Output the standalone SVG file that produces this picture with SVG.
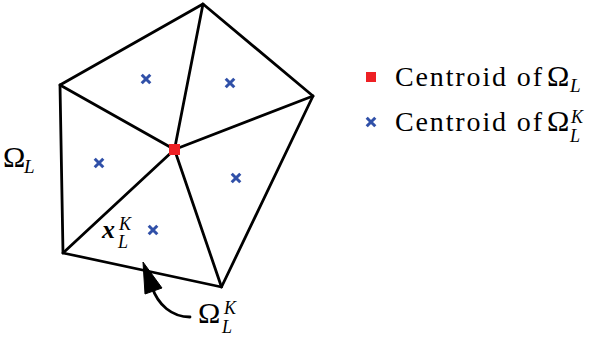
<svg xmlns="http://www.w3.org/2000/svg" width="595" height="343" viewBox="0 0 595 343">
<style>
.edge{stroke:#000;stroke-width:2.8;fill:none;stroke-linejoin:round;stroke-linecap:round}
.cross{stroke:#3050A8;stroke-width:3;stroke-linecap:butt}
.t{font-family:"Liberation Serif","DejaVu Serif",serif;fill:#000}
.i{font-style:italic}
</style>
<defs>
<path id="x" d="M-4.3,-4.3L4.3,4.3M-4.3,4.3L4.3,-4.3"/>
</defs>
<rect width="595" height="343" fill="#fff"/>
<g id="connectors">
<path class="edge" d="M203,4L313,96L221.5,287L63,253L60,85Z"/>
<path class="edge" d="M174.5,149.5L203,4M174.5,149.5L313,96M174.5,149.5L221.5,287M174.5,149.5L63,253M174.5,149.5L60,85"/>
<path class="edge" d="M190,317C172,317 158,305 152,287"/>
<path d="M143,262L145,294L162,288Z" fill="#000" stroke="#000" stroke-width="1" stroke-linejoin="round"/>
</g>
<g id="centroid">
<rect x="169" y="144" width="11" height="11" fill="#EE2024"/>
</g>
<g id="subcentroids">
<use href="#x" class="cross" x="146" y="79"/>
<use href="#x" class="cross" x="230" y="83"/>
<use href="#x" class="cross" x="99" y="163"/>
<use href="#x" class="cross" x="236" y="178"/>
<use href="#x" class="cross" x="153" y="230"/>
</g>
<g id="label-omegaL">
<text class="t" x="3" y="167" font-size="30">Ω</text>
<text class="t i" x="24" y="173" font-size="19">L</text>
</g>
<g id="label-xLK">
<text class="t i" x="102" y="238" font-size="26" font-weight="bold">x</text>
<text class="t i" font-size="18"><tspan x="119" y="230">K</tspan><tspan x="118" y="248">L</tspan></text>
</g>
<g id="label-omegaLK">
<text class="t" x="198" y="323" font-size="30">Ω</text>
<text class="t i" font-size="18"><tspan x="224" y="314">K</tspan><tspan x="222" y="333">L</tspan></text>
</g>
<g id="legend">
<rect x="366" y="72" width="10" height="10" fill="#EE2024"/>
<text class="t" x="395" y="86" font-size="28" textLength="147" lengthAdjust="spacing">Centroid of</text>
<text class="t" x="547" y="86" font-size="30">Ω</text>
<text class="t i" x="570" y="92" font-size="19">L</text>
<use href="#x" class="cross" x="371" y="122"/>
<text class="t" x="395" y="131" font-size="28" textLength="147" lengthAdjust="spacing">Centroid of</text>
<text class="t" x="547" y="131" font-size="30">Ω</text>
<text class="t i" font-size="18"><tspan x="571" y="123">K</tspan><tspan x="570" y="142">L</tspan></text>
</g>
</svg>
